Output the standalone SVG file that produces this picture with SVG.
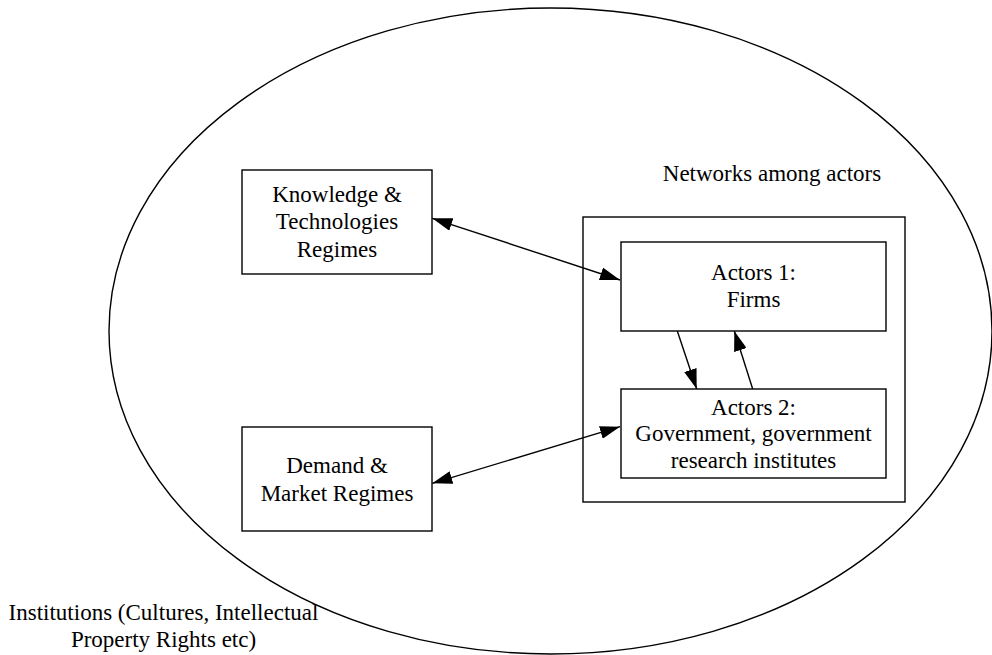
<svg xmlns="http://www.w3.org/2000/svg" width="992" height="655" viewBox="0 0 992 655">
  <style>
    .box { fill: #ffffff; stroke: #000000; stroke-width: 1.4; }
    .frame { fill: none; stroke: #000000; stroke-width: 1.4; }
    .edge { fill: none; stroke: #000000; stroke-width: 1.4; }
    .label { font-family: 'Liberation Serif', 'DejaVu Serif', serif; font-size: 23px; fill: #000000; text-anchor: middle; }
  </style>
  <defs>
    <marker id="head" viewBox="0 0 20 13" refX="20" refY="6.5" markerWidth="20" markerHeight="13" markerUnits="userSpaceOnUse" orient="auto-start-reverse">
      <path d="M0,0 L20,6.5 L0,13 Z" fill="#000000"/>
    </marker>
  </defs>
  <rect width="992" height="655" fill="#ffffff"/>

  <!-- institutional environment -->
  <g id="institutions" class="label" font-family="Liberation Serif, serif">
    <ellipse class="frame" cx="550.5" cy="331" rx="441.5" ry="323"/>
    <text x="163.5" y="620">Institutions (Cultures, Intellectual</text>
    <text x="163.5" y="647.3">Property Rights etc)</text>
  </g>

  <g id="knowledge" class="label" font-family="Liberation Serif, serif">
    <rect class="box" x="242" y="170" width="190" height="104"/>
    <text x="337" y="201.7">Knowledge &amp;</text>
    <text x="337" y="229.3">Technologies</text>
    <text x="337" y="256.7">Regimes</text>
  </g>

  <g id="demand" class="label" font-family="Liberation Serif, serif">
    <rect class="box" x="242" y="427" width="190" height="104"/>
    <text x="337" y="473.3">Demand &amp;</text>
    <text x="337" y="500.7">Market Regimes</text>
  </g>

  <g id="networks" class="label" font-family="Liberation Serif, serif">
    <rect class="box" x="583" y="217" width="322" height="285"/>
    <text x="772" y="181">Networks among actors</text>
  </g>

  <g id="actors1" class="label" font-family="Liberation Serif, serif">
    <rect class="box" x="621" y="242" width="265" height="89"/>
    <text x="753.5" y="280">Actors 1:</text>
    <text x="753.5" y="307.3">Firms</text>
  </g>

  <g id="actors2" class="label" font-family="Liberation Serif, serif">
    <rect class="box" x="621" y="389" width="265" height="89"/>
    <text x="753.5" y="415">Actors 2:</text>
    <text x="753.5" y="440.7">Government, government</text>
    <text x="753.5" y="468.3">research institutes</text>
  </g>

  <g id="connectors">
    <path class="edge" d="M432.3,218.3 L620,280" marker-start="url(#head)" marker-end="url(#head)"/>
    <path class="edge" d="M432.3,483.3 L620,426.7" marker-start="url(#head)" marker-end="url(#head)"/>
    <path class="edge" d="M677.3,331 L696.7,389" marker-end="url(#head)"/>
    <path class="edge" d="M752.7,389 L734.3,331" marker-end="url(#head)"/>
  </g>
</svg>
